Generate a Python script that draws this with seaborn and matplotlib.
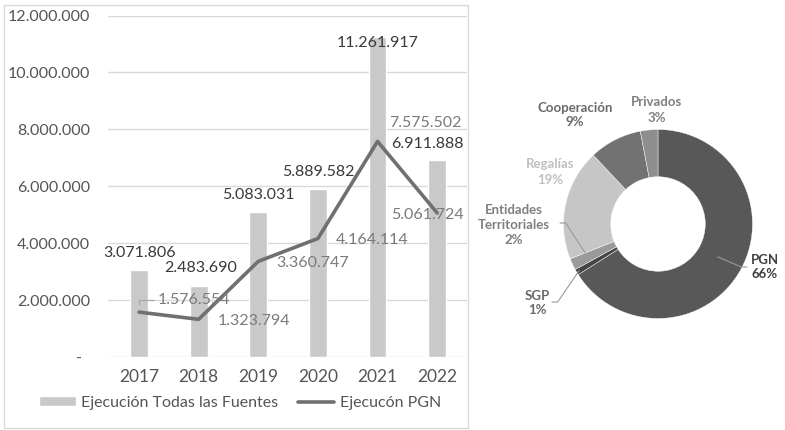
import numpy as np
import matplotlib
matplotlib.use("Agg")
import matplotlib.pyplot as plt
from matplotlib.patches import Rectangle
from matplotlib.ticker import FuncFormatter, MultipleLocator
import seaborn as sns

# ---- data -------------------------------------------------------------
years = ["2017", "2018", "2019", "2020", "2021", "2022"]
total_all_sources = [3071806, 2483690, 5083031, 5889582, 11261917, 6911888]
total_pgn = [1576554, 1323794, 3360747, 4164114, 7575502, 5061724]

sources = ["PGN", "SGP", "Entidades\nTerritoriales", "Regalías", "Cooperación", "Privados"]
shares = [66, 1, 2, 19, 9, 3]

bar_label_name = "Ejecución Todas las Fuentes"
line_label_name = "Ejecucón PGN"

# ---- style ------------------------------------------------------------
sns.set_theme(style="white")
plt.rcParams["font.family"] = ["Lato", "DejaVu Sans"]

BAR_C = "#c9c9c9"
LINE_C = "#707070"
TICK_C = "#555555"
BAR_TXT = "#3a3a3a"
LINE_TXT = "#7a7a7a"
GRID_C = "#d9d9d9"

W, H = 785, 430
fig = plt.figure(figsize=(W / 100, H / 100), dpi=100)


def fx(px):
    return px / W


def fy(py):
    return 1 - py / H


def miles(v):
    return f"{v:,.0f}".replace(",", ".")


# ---- left panel: bars + line -----------------------------------------
fig.add_artist(Rectangle((fx(4), fy(428)), fx(468) - fx(4), fy(5) - fy(428),
                         fill=False, edgecolor=GRID_C, lw=1.0,
                         transform=fig.transFigure))

ax = fig.add_axes([fx(108), fy(357), fx(467) - fx(108), fy(15.5) - fy(357)])
pos = np.arange(len(years))

sns.barplot(x=years, y=total_all_sources, color=BAR_C, width=0.3,
            saturation=1, ax=ax, label=bar_label_name, zorder=2)
sns.lineplot(x=pos, y=total_pgn, color=LINE_C, lw=2.6, ax=ax,
             label=line_label_name, zorder=3)

ax.set_xlim(-0.52, 5.5)
ax.set_ylim(0, 12_000_000)
ax.yaxis.set_major_locator(MultipleLocator(2_000_000))
ax.yaxis.set_major_formatter(FuncFormatter(lambda v, p: "-  " if v == 0 else miles(v)))
ax.set_xticks(pos)
ax.set_xticklabels(years)
ax.grid(axis="y", color=GRID_C, lw=1.0, zorder=0)
ax.set_axisbelow(True)
for s in ax.spines.values():
    s.set_visible(False)
ax.tick_params(axis="y", length=0, pad=13, labelsize=11.5, labelcolor=TICK_C)
ax.tick_params(axis="x", length=0, pad=9, labelsize=12.5, labelcolor=TICK_C)
ax.set_xlabel("")
ax.set_ylabel("")
ax.patch.set_alpha(0)

# value labels on bars (pixel offsets from the bar top)
bar_offsets = [(1, 17), (2, 18), (0, 17), (0, 17), (0, -6), (-10, 16)]
for x, v, (dx, dy) in zip(pos, total_all_sources, bar_offsets):
    ax.annotate(miles(v), (x, v), xytext=(dx, dy), textcoords="offset pixels",
                ha="center", va="center", fontsize=11.5, color=BAR_TXT, zorder=5)

# value labels on the line
line_offsets = [(55, 12), (55, -2), (54, -2), (54, -2), (48, 18), (-10, -2)]
for i, (x, v, (dx, dy)) in enumerate(zip(pos, total_pgn, line_offsets)):
    if i == 0:
        ax.annotate(miles(v), (x, v), xytext=(dx, dy), textcoords="offset pixels",
                    ha="center", va="center", fontsize=11.5, color=LINE_TXT, zorder=5,
                    arrowprops=dict(arrowstyle="-", color="#a6a6a6", lw=0.8,
                                    connectionstyle="angle,angleA=0,angleB=90,rad=0",
                                    shrinkA=36, shrinkB=6))
    else:
        ax.annotate(miles(v), (x, v), xytext=(dx, dy), textcoords="offset pixels",
                    ha="center", va="center", fontsize=11.5, color=LINE_TXT, zorder=5)

handles, labels = ax.get_legend_handles_labels()
order = [labels.index(bar_label_name), labels.index(line_label_name)]
if ax.get_legend() is not None:
    ax.get_legend().remove()
fig.legend([handles[i] for i in order], [labels[i] for i in order],
           loc="center", bbox_to_anchor=(fx(240), fy(403)),
           ncol=2, frameon=False, fontsize=11.5, handlelength=2.3, handleheight=0.6,
           handletextpad=0.35, columnspacing=1.2, labelcolor=TICK_C)

# ---- right panel: donut ------------------------------------------------
R_PX = 94.5
CX, CY = 658, 224
ax2 = fig.add_axes([fx(470), fy(420), fx(785) - fx(470), fy(10) - fy(420)])

slice_colors = ["#585858", "#454545", "#9a9a9a", "#c6c6c6", "#727272", "#8e8e8e"]
label_colors = ["#404040", "#6a6a6a", "#7f7f7f", "#c0c0c0", "#6a6a6a", "#808080"]

wedges, _ = ax2.pie(shares, colors=slice_colors, startangle=90, counterclock=False,
                    radius=1.0, wedgeprops=dict(width=0.5, edgecolor="white", linewidth=0.3))
ax2.set_aspect("auto")
ax2.set_xlim((470 - CX) / R_PX, (785 - CX) / R_PX)
ax2.set_ylim((CY - 420) / R_PX, (CY - 10) / R_PX)
ax2.axis("off")


def d(px, py):
    return ((px - CX) / R_PX, (CY - py) / R_PX)


# label anchors (pixel centres of each label block)
label_px = {
    "PGN": (765, 267),
    "SGP": (537, 303),
    "Entidades\nTerritoriales": (514, 225),
    "Regalías": (550, 172),
    "Cooperación": (575, 115),
    "Privados": (657, 110),
}
# leader lines: (label-side point, radius at which it meets the ring)
leaders = {
    "PGN": ((747, 267), 0.72),
    "SGP": ((552, 302), 0.97),
    "Entidades\nTerritoriales": ((560, 223), 0.82),
}

for w, name, share, lc in zip(wedges, sources, shares, label_colors):
    lx, ly = d(*label_px[name])
    ax2.text(lx, ly, f"{name}\n{share}%", ha="center", va="center", fontsize=9.5,
             fontweight="bold", color=lc, linespacing=1.3)
    if name in leaders:
        (sx, sy), r = leaders[name]
        mid = np.deg2rad((w.theta1 + w.theta2) / 2)
        ex, ey = r * np.cos(mid), r * np.sin(mid)
        p0 = d(sx, sy)
        ax2.plot([p0[0], p0[0] + (0.06 if sx < CX else -0.06), ex],
                 [p0[1], p0[1], ey], color="#9a9a9a", lw=0.8)

fig.savefig("out.png", dpi=100)
